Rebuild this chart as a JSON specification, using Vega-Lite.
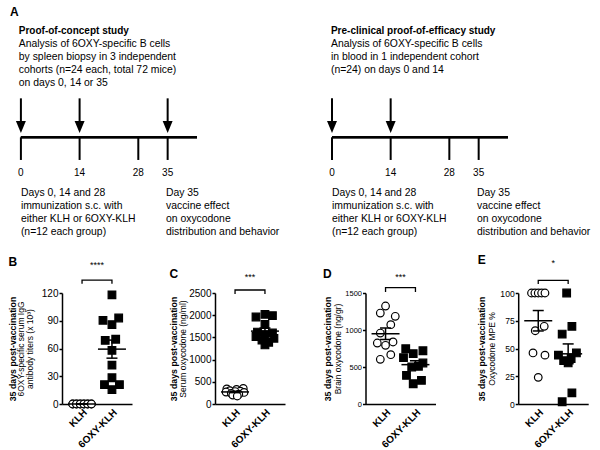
{
  "$schema": "https://vega.github.io/schema/vega-lite/v6.json",
  "padding": {"left": 8, "top": 5, "right": 5, "bottom": 5},
  "background": "white",
  "config": {
    "view": {"stroke": null},
    "font": "Liberation Sans",
    "text": {"font": "Liberation Sans", "color": "black"},
    "title": {"font": "Liberation Sans", "fontSize": 12, "fontWeight": "bold", "color": "black", "anchor": "start", "frame": "bounds", "offset": -8},
    "axis": {"grid": false, "domainColor": "black", "domainWidth": 1.5, "tickColor": "black", "tickWidth": 1.5, "tickSize": 3, "labelColor": "black", "labelFont": "Liberation Sans", "labelFontSize": 10, "titleFont": "Liberation Sans", "titleFontSize": 8.5, "titleFontWeight": "normal", "titleColor": "black", "titleLineHeight": 9, "labelPadding": 1}
  },
  "datasets": {
    "daysA": [{"day": 0, "arrow": true}, {"day": 14, "arrow": true}, {"day": 28, "arrow": false}, {"day": 35, "arrow": true}],
    "daysB": [{"day": 0, "arrow": true}, {"day": 14, "arrow": true}, {"day": 28, "arrow": false}, {"day": 35, "arrow": false}],
    "notesA": [
      {"kind": "letter", "text": "A", "day": -2.6, "row": 0.54},
      {"kind": "heading", "text": "Proof-of-concept study", "day": -0.5, "row": 2.0},
      {"kind": "body", "text": "Analysis of 6OXY-specific B cells", "day": -0.5, "row": 3.0},
      {"kind": "body", "text": "by spleen biopsy in 3 independent", "day": -0.5, "row": 4.0},
      {"kind": "body", "text": "cohorts (n=24 each, total 72 mice)", "day": -0.5, "row": 5.0},
      {"kind": "body", "text": "on days 0, 14 or 35", "day": -0.5, "row": 6.0},
      {"kind": "body", "text": "Days 0, 14 and 28", "day": 0, "row": 14.47},
      {"kind": "body", "text": "immunization s.c. with", "day": 0, "row": 15.47},
      {"kind": "body", "text": "either KLH or 6OXY-KLH", "day": 0, "row": 16.47},
      {"kind": "body", "text": "(n=12 each group)", "day": 0, "row": 17.47},
      {"kind": "body", "text": "Day 35", "day": 34.6, "row": 14.47},
      {"kind": "body", "text": "vaccine effect", "day": 34.6, "row": 15.47},
      {"kind": "body", "text": "on oxycodone", "day": 34.6, "row": 16.47},
      {"kind": "body", "text": "distribution and behavior", "day": 34.6, "row": 17.47}
    ],
    "notesB": [
      {"kind": "heading", "text": "Pre-clinical proof-of-efficacy study", "day": -0.25, "row": 2.0},
      {"kind": "body", "text": "Analysis of 6OXY-specific B cells", "day": -0.25, "row": 3.0},
      {"kind": "body", "text": "in blood in 1 independent cohort", "day": -0.25, "row": 4.0},
      {"kind": "body", "text": "(n=24) on days 0 and 14", "day": -0.25, "row": 5.0},
      {"kind": "body", "text": "Days 0, 14 and 28", "day": 0, "row": 14.47},
      {"kind": "body", "text": "immunization s.c. with", "day": 0, "row": 15.47},
      {"kind": "body", "text": "either KLH or 6OXY-KLH", "day": 0, "row": 16.47},
      {"kind": "body", "text": "(n=12 each group)", "day": 0, "row": 17.47},
      {"kind": "body", "text": "Day 35", "day": 34.6, "row": 14.47},
      {"kind": "body", "text": "vaccine effect", "day": 34.6, "row": 15.47},
      {"kind": "body", "text": "on oxycodone", "day": 34.6, "row": 16.47},
      {"kind": "body", "text": "distribution and behavior", "day": 34.6, "row": 17.47}
    ],
    "panelB": [
      {"group": "KLH", "value": 0, "slot": -1.25}, {"group": "KLH", "value": 0, "slot": -1.25},
      {"group": "KLH", "value": 0, "slot": -0.75}, {"group": "KLH", "value": 0, "slot": -0.75},
      {"group": "KLH", "value": 0, "slot": -0.25}, {"group": "KLH", "value": 0, "slot": -0.25},
      {"group": "KLH", "value": 0, "slot": 0.25}, {"group": "KLH", "value": 0, "slot": 0.25},
      {"group": "KLH", "value": 0, "slot": 0.75}, {"group": "KLH", "value": 0, "slot": 0.75},
      {"group": "KLH", "value": 0, "slot": 1.25}, {"group": "KLH", "value": 0, "slot": 1.25},
      {"group": "6OXY-KLH", "value": 118, "slot": 0},
      {"group": "6OXY-KLH", "value": 90.5, "slot": -1.2},
      {"group": "6OXY-KLH", "value": 85.8, "slot": 0},
      {"group": "6OXY-KLH", "value": 93, "slot": 0.9},
      {"group": "6OXY-KLH", "value": 68.8, "slot": -0.9},
      {"group": "6OXY-KLH", "value": 70, "slot": 0.5},
      {"group": "6OXY-KLH", "value": 58, "slot": 0},
      {"group": "6OXY-KLH", "value": 42, "slot": 0},
      {"group": "6OXY-KLH", "value": 28.4, "slot": 0},
      {"group": "6OXY-KLH", "value": 20.9, "slot": -1},
      {"group": "6OXY-KLH", "value": 15.5, "slot": 0},
      {"group": "6OXY-KLH", "value": 20.9, "slot": 1}
    ],
    "panelC": [
      {"group": "KLH", "value": 350, "slot": 1.1}, {"group": "KLH", "value": 340, "slot": -1.1},
      {"group": "KLH", "value": 330, "slot": 0.2}, {"group": "KLH", "value": 300, "slot": -0.7},
      {"group": "KLH", "value": 290, "slot": 0.7}, {"group": "KLH", "value": 280, "slot": 0},
      {"group": "KLH", "value": 270, "slot": -1.2}, {"group": "KLH", "value": 260, "slot": 1.2},
      {"group": "KLH", "value": 240, "slot": -0.5}, {"group": "KLH", "value": 220, "slot": 0.5},
      {"group": "KLH", "value": 200, "slot": -0.3}, {"group": "KLH", "value": 180, "slot": 0.3},
      {"group": "6OXY-KLH", "value": 1960, "slot": -1.2}, {"group": "6OXY-KLH", "value": 2020, "slot": 0},
      {"group": "6OXY-KLH", "value": 1990, "slot": 1}, {"group": "6OXY-KLH", "value": 1790, "slot": 0},
      {"group": "6OXY-KLH", "value": 1620, "slot": -1}, {"group": "6OXY-KLH", "value": 1600, "slot": 1},
      {"group": "6OXY-KLH", "value": 1560, "slot": 0}, {"group": "6OXY-KLH", "value": 1520, "slot": -1.2},
      {"group": "6OXY-KLH", "value": 1480, "slot": 1.2}, {"group": "6OXY-KLH", "value": 1440, "slot": -0.4},
      {"group": "6OXY-KLH", "value": 1390, "slot": 0.5}, {"group": "6OXY-KLH", "value": 1330, "slot": 0}
    ],
    "panelD": [
      {"group": "KLH", "value": 1324, "slot": 0}, {"group": "KLH", "value": 1229, "slot": -0.7},
      {"group": "KLH", "value": 1185, "slot": 1.3}, {"group": "KLH", "value": 1072, "slot": 0.7},
      {"group": "KLH", "value": 959, "slot": -0.7}, {"group": "KLH", "value": 824, "slot": -1.1},
      {"group": "KLH", "value": 838, "slot": 1.0}, {"group": "KLH", "value": 793, "slot": 0},
      {"group": "KLH", "value": 666, "slot": 0.7}, {"group": "KLH", "value": 604, "slot": -0.7},
      {"group": "6OXY-KLH", "value": 747, "slot": -1.3}, {"group": "6OXY-KLH", "value": 680, "slot": -0.3},
      {"group": "6OXY-KLH", "value": 720, "slot": 1}, {"group": "6OXY-KLH", "value": 626, "slot": -1.6},
      {"group": "6OXY-KLH", "value": 554, "slot": 1}, {"group": "6OXY-KLH", "value": 500, "slot": -0.5},
      {"group": "6OXY-KLH", "value": 510, "slot": 0.4}, {"group": "6OXY-KLH", "value": 387, "slot": -1.2},
      {"group": "6OXY-KLH", "value": 274, "slot": -0.3}, {"group": "6OXY-KLH", "value": 320, "slot": 0.8}
    ],
    "panelE": [
      {"group": "KLH", "value": 100, "slot": -0.9}, {"group": "KLH", "value": 100, "slot": -0.45},
      {"group": "KLH", "value": 100, "slot": 0}, {"group": "KLH", "value": 100, "slot": 0.45},
      {"group": "KLH", "value": 100, "slot": 0.9}, {"group": "KLH", "value": 70, "slot": 0.8},
      {"group": "KLH", "value": 66, "slot": -0.4}, {"group": "KLH", "value": 46, "slot": -0.7},
      {"group": "KLH", "value": 44, "slot": 0.9}, {"group": "KLH", "value": 24, "slot": 0},
      {"group": "6OXY-KLH", "value": 100, "slot": -0.2}, {"group": "6OXY-KLH", "value": 70, "slot": 0.5},
      {"group": "6OXY-KLH", "value": 63, "slot": -0.8}, {"group": "6OXY-KLH", "value": 46, "slot": 1.1},
      {"group": "6OXY-KLH", "value": 44, "slot": -1.3}, {"group": "6OXY-KLH", "value": 39, "slot": -0.6},
      {"group": "6OXY-KLH", "value": 37, "slot": 0}, {"group": "6OXY-KLH", "value": 41, "slot": 0.4},
      {"group": "6OXY-KLH", "value": 10, "slot": 0.5}, {"group": "6OXY-KLH", "value": 2, "slot": -0.8}
    ],
    "bracketB": [{"seq": 1, "group": "KLH", "y": 130}, {"seq": 2, "group": "KLH", "y": 134}, {"seq": 3, "group": "6OXY-KLH", "y": 134}, {"seq": 4, "group": "6OXY-KLH", "y": 130}],
    "bracketC": [{"seq": 1, "group": "KLH", "y": 2477}, {"seq": 2, "group": "KLH", "y": 2568}, {"seq": 3, "group": "6OXY-KLH", "y": 2568}, {"seq": 4, "group": "6OXY-KLH", "y": 2477}],
    "bracketD": [{"seq": 1, "group": "KLH", "y": 1514}, {"seq": 2, "group": "KLH", "y": 1572}, {"seq": 3, "group": "6OXY-KLH", "y": 1572}, {"seq": 4, "group": "6OXY-KLH", "y": 1514}],
    "bracketE": [{"seq": 1, "group": "KLH", "y": 108.1}, {"seq": 2, "group": "KLH", "y": 111.4}, {"seq": 3, "group": "6OXY-KLH", "y": 111.4}, {"seq": 4, "group": "6OXY-KLH", "y": 108.1}],
    "starsB": [{"group": "6OXY-KLH", "y": 150, "label": "****"}],
    "starsC": [{"group": "6OXY-KLH", "y": 2860, "label": "***"}],
    "starsD": [{"group": "6OXY-KLH", "y": 1715, "label": "***"}],
    "starsE": [{"group": "6OXY-KLH", "y": 127, "label": "*"}]
  },
  "spacing": 15,
  "vconcat": [
    {
      "spacing": 47,
      "hconcat": [
        {
          "width": 187, "height": 234,
          "layer": [
            {"data": {"name": "daysA"}, "mark": {"type": "rule", "strokeWidth": 2, "color": "black"},
             "encoding": {"x": {"datum": 0, "type": "quantitative", "scale": {"domain": [-2.6, 42], "nice": false, "zero": false}, "axis": null}, "x2": {"datum": 42},
                          "y": {"datum": 10.18, "type": "quantitative", "scale": {"domain": [0, 18], "reverse": true, "nice": false, "zero": false}, "axis": null}}},
            {"data": {"name": "daysA"}, "mark": {"type": "rule", "strokeWidth": 2, "color": "black"},
             "encoding": {"x": {"field": "day", "type": "quantitative", "scale": {"domain": [-2.6, 42], "nice": false, "zero": false}, "axis": null},
                          "y": {"datum": 10.18, "type": "quantitative", "scale": {"domain": [0, 18], "reverse": true, "nice": false, "zero": false}, "axis": null}, "y2": {"datum": 11.92}}},
            {"data": {"name": "daysA"}, "transform": [{"filter": "datum.arrow"}], "mark": {"type": "rule", "strokeWidth": 2, "color": "black"},
             "encoding": {"x": {"field": "day", "type": "quantitative", "scale": {"domain": [-2.6, 42], "nice": false, "zero": false}, "axis": null},
                          "y": {"datum": 7.18, "type": "quantitative", "scale": {"domain": [0, 18], "reverse": true, "nice": false, "zero": false}, "axis": null}, "y2": {"datum": 9.4}}},
            {"data": {"name": "daysA"}, "transform": [{"filter": "datum.arrow"}], "mark": {"type": "point", "shape": "M-0.83,-1L0.83,-1L0,1Z", "size": 144, "filled": true, "color": "black", "strokeWidth": 0, "opacity": 1},
             "encoding": {"x": {"field": "day", "type": "quantitative", "scale": {"domain": [-2.6, 42], "nice": false, "zero": false}, "axis": null},
                          "y": {"datum": 9.38, "type": "quantitative", "scale": {"domain": [0, 18], "reverse": true, "nice": false, "zero": false}, "axis": null}}},
            {"data": {"name": "daysA"}, "mark": {"type": "text", "fontSize": 10, "align": "center", "baseline": "middle"},
             "encoding": {"x": {"field": "day", "type": "quantitative", "scale": {"domain": [-2.6, 42], "nice": false, "zero": false}, "axis": null},
                          "y": {"datum": 12.95, "type": "quantitative", "scale": {"domain": [0, 18], "reverse": true, "nice": false, "zero": false}, "axis": null}, "text": {"field": "day"}}},
            {"data": {"name": "notesA"}, "transform": [{"filter": "datum.kind === 'body'"}], "mark": {"type": "text", "fontSize": 10.4, "align": "left", "baseline": "middle"},
             "encoding": {"x": {"field": "day", "type": "quantitative", "scale": {"domain": [-2.6, 42], "nice": false, "zero": false}, "axis": null},
                          "y": {"field": "row", "type": "quantitative", "scale": {"domain": [0, 18], "reverse": true, "nice": false, "zero": false}, "axis": null}, "text": {"field": "text"}}},
            {"data": {"name": "notesA"}, "transform": [{"filter": "datum.kind === 'heading'"}], "mark": {"type": "text", "fontSize": 10, "fontWeight": "bold", "align": "left", "baseline": "middle"},
             "encoding": {"x": {"field": "day", "type": "quantitative", "scale": {"domain": [-2.6, 42], "nice": false, "zero": false}, "axis": null},
                          "y": {"field": "row", "type": "quantitative", "scale": {"domain": [0, 18], "reverse": true, "nice": false, "zero": false}, "axis": null}, "text": {"field": "text"}}},
            {"data": {"name": "notesA"}, "transform": [{"filter": "datum.kind === 'letter'"}], "mark": {"type": "text", "fontSize": 12, "fontWeight": "bold", "align": "left", "baseline": "middle"},
             "encoding": {"x": {"field": "day", "type": "quantitative", "scale": {"domain": [-2.6, 42], "nice": false, "zero": false}, "axis": null},
                          "y": {"field": "row", "type": "quantitative", "scale": {"domain": [0, 18], "reverse": true, "nice": false, "zero": false}, "axis": null}, "text": {"field": "text"}}}
          ]
        },
        {
          "width": 176, "height": 234,
          "layer": [
            {"data": {"name": "daysB"}, "mark": {"type": "rule", "strokeWidth": 2, "color": "black"},
             "encoding": {"x": {"datum": 0, "type": "quantitative", "scale": {"domain": [0, 42], "nice": false, "zero": false}, "axis": null}, "x2": {"datum": 42},
                          "y": {"datum": 10.18, "type": "quantitative", "scale": {"domain": [0, 18], "reverse": true, "nice": false, "zero": false}, "axis": null}}},
            {"data": {"name": "daysB"}, "mark": {"type": "rule", "strokeWidth": 2, "color": "black"},
             "encoding": {"x": {"field": "day", "type": "quantitative", "scale": {"domain": [0, 42], "nice": false, "zero": false}, "axis": null},
                          "y": {"datum": 10.18, "type": "quantitative", "scale": {"domain": [0, 18], "reverse": true, "nice": false, "zero": false}, "axis": null}, "y2": {"datum": 11.92}}},
            {"data": {"name": "daysB"}, "transform": [{"filter": "datum.arrow"}], "mark": {"type": "rule", "strokeWidth": 2, "color": "black"},
             "encoding": {"x": {"field": "day", "type": "quantitative", "scale": {"domain": [0, 42], "nice": false, "zero": false}, "axis": null},
                          "y": {"datum": 7.18, "type": "quantitative", "scale": {"domain": [0, 18], "reverse": true, "nice": false, "zero": false}, "axis": null}, "y2": {"datum": 9.4}}},
            {"data": {"name": "daysB"}, "transform": [{"filter": "datum.arrow"}], "mark": {"type": "point", "shape": "M-0.83,-1L0.83,-1L0,1Z", "size": 144, "filled": true, "color": "black", "strokeWidth": 0, "opacity": 1},
             "encoding": {"x": {"field": "day", "type": "quantitative", "scale": {"domain": [0, 42], "nice": false, "zero": false}, "axis": null},
                          "y": {"datum": 9.38, "type": "quantitative", "scale": {"domain": [0, 18], "reverse": true, "nice": false, "zero": false}, "axis": null}}},
            {"data": {"name": "daysB"}, "mark": {"type": "text", "fontSize": 10, "align": "center", "baseline": "middle"},
             "encoding": {"x": {"field": "day", "type": "quantitative", "scale": {"domain": [0, 42], "nice": false, "zero": false}, "axis": null},
                          "y": {"datum": 12.95, "type": "quantitative", "scale": {"domain": [0, 18], "reverse": true, "nice": false, "zero": false}, "axis": null}, "text": {"field": "day"}}},
            {"data": {"name": "notesB"}, "transform": [{"filter": "datum.kind === 'body'"}], "mark": {"type": "text", "fontSize": 10.4, "align": "left", "baseline": "middle"},
             "encoding": {"x": {"field": "day", "type": "quantitative", "scale": {"domain": [0, 42], "nice": false, "zero": false}, "axis": null},
                          "y": {"field": "row", "type": "quantitative", "scale": {"domain": [0, 18], "reverse": true, "nice": false, "zero": false}, "axis": null}, "text": {"field": "text"}}},
            {"data": {"name": "notesB"}, "transform": [{"filter": "datum.kind === 'heading'"}], "mark": {"type": "text", "fontSize": 10, "fontWeight": "bold", "align": "left", "baseline": "middle"},
             "encoding": {"x": {"field": "day", "type": "quantitative", "scale": {"domain": [0, 42], "nice": false, "zero": false}, "axis": null},
                          "y": {"field": "row", "type": "quantitative", "scale": {"domain": [0, 18], "reverse": true, "nice": false, "zero": false}, "axis": null}, "text": {"field": "text"}}}
          ]
        }
      ]
    },
    {
      "spacing": -3,
      "hconcat": [
        {"width": 1, "height": 1, "data": {"values": [{"t": ""}]}, "mark": {"type": "text", "opacity": 0}, "encoding": {"text": {"field": "t"}}},
        {
          "spacing": 37.5,
          "hconcat": [
            {
              "spacing": 37,
              "hconcat": [
                {
                  "width": 70, "height": 111,
                  "title": {"text": "B"},
                  "resolve": {"axis": {"y": "independent"}},
                  "layer": [
                    {"data": {"name": "panelB"}, "mark": {"type": "point", "filled": true, "stroke": "black", "strokeWidth": 1.2, "size": 58, "opacity": 1},
                     "encoding": {
                       "x": {"field": "group", "type": "nominal", "sort": ["KLH", "6OXY-KLH"], "scale": {"paddingInner": 0, "paddingOuter": 0.17}, "title": null, "axis": {"orient": "bottom", "ticks": false, "labelAngle": -45, "labelFontWeight": "bold", "labelFontSize": 10, "labelPadding": 3}},
                       "xOffset": {"field": "slot", "type": "quantitative", "scale": {"domain": [-2, 2], "nice": false, "zero": false}},
                       "y": {"field": "value", "type": "quantitative", "scale": {"domain": [0, 120], "nice": false}, "axis": {"orient": "left", "values": [0, 30, 60, 90, 120], "labelFontSize": 10, "title": ["6OXY-specific serum IgG", "antibody titers (x 10³)"], "titlePadding": 7}},
                       "shape": {"field": "group", "type": "nominal", "scale": {"domain": ["KLH", "6OXY-KLH"], "range": ["circle", "square"]}, "legend": null},
                       "fill": {"field": "group", "type": "nominal", "scale": {"domain": ["KLH", "6OXY-KLH"], "range": ["white", "black"]}, "legend": null}
                     }},
                    {"data": {"name": "panelB"},
                     "transform": [{"aggregate": [{"op": "mean", "field": "value", "as": "m"}, {"op": "stderr", "field": "value", "as": "se"}], "groupby": ["group"]}, {"calculate": "datum.m - datum.se", "as": "lo"}, {"calculate": "datum.m + datum.se", "as": "hi"}],
                     "layer": [
                       {"mark": {"type": "rule", "strokeWidth": 1.5, "color": "black"}, "encoding": {"x": {"field": "group", "type": "nominal", "sort": ["KLH", "6OXY-KLH"], "title": null}, "y": {"field": "lo", "type": "quantitative", "scale": {"domain": [0, 120], "nice": false}, "axis": null}, "y2": {"field": "hi"}}},
                       {"mark": {"type": "tick", "size": 28, "thickness": 1.5, "color": "black", "opacity": 1}, "encoding": {"x": {"field": "group", "type": "nominal", "sort": ["KLH", "6OXY-KLH"], "title": null}, "y": {"field": "m", "type": "quantitative", "scale": {"domain": [0, 120], "nice": false}, "axis": null}}},
                       {"mark": {"type": "tick", "size": 11, "thickness": 1.5, "color": "black", "opacity": 1}, "encoding": {"x": {"field": "group", "type": "nominal", "sort": ["KLH", "6OXY-KLH"], "title": null}, "y": {"field": "lo", "type": "quantitative", "scale": {"domain": [0, 120], "nice": false}, "axis": null}}},
                       {"mark": {"type": "tick", "size": 11, "thickness": 1.5, "color": "black", "opacity": 1}, "encoding": {"x": {"field": "group", "type": "nominal", "sort": ["KLH", "6OXY-KLH"], "title": null}, "y": {"field": "hi", "type": "quantitative", "scale": {"domain": [0, 120], "nice": false}, "axis": null}}}
                     ]},
                    {"data": {"name": "bracketB"}, "mark": {"type": "line", "strokeWidth": 1.3, "color": "black"},
                     "encoding": {"x": {"field": "group", "type": "nominal", "sort": ["KLH", "6OXY-KLH"], "title": null}, "order": {"field": "seq"},
                                  "y": {"field": "y", "type": "quantitative", "scale": {"domain": [0, 120], "nice": false}, "axis": {"orient": "left", "title": "35 days post-vaccination", "titleFontWeight": "bold", "titleFontSize": 8.8, "labels": false, "ticks": false, "domain": false, "titlePadding": 44.5}}}},
                    {"data": {"name": "starsB"}, "mark": {"type": "text", "fontSize": 9, "align": "center", "baseline": "middle"},
                     "encoding": {"x": {"field": "group", "type": "nominal", "sort": ["KLH", "6OXY-KLH"], "bandPosition": 0, "title": null}, "y": {"field": "y", "type": "quantitative", "scale": {"domain": [0, 120], "nice": false}, "axis": null}, "text": {"field": "label"}}}
                  ]
                },
                {
                  "width": 70, "height": 111,
                  "title": {"text": "C"},
                  "resolve": {"axis": {"y": "independent"}},
                  "layer": [
                    {"data": {"name": "panelC"}, "mark": {"type": "point", "filled": true, "stroke": "black", "strokeWidth": 1.2, "size": 58, "opacity": 1},
                     "encoding": {
                       "x": {"field": "group", "type": "nominal", "sort": ["KLH", "6OXY-KLH"], "scale": {"paddingInner": 0, "paddingOuter": 0.17}, "title": null, "axis": {"orient": "bottom", "ticks": false, "labelAngle": -45, "labelFontWeight": "bold", "labelFontSize": 10, "labelPadding": 3}},
                       "xOffset": {"field": "slot", "type": "quantitative", "scale": {"domain": [-2, 2], "nice": false, "zero": false}},
                       "y": {"field": "value", "type": "quantitative", "scale": {"domain": [0, 2500], "nice": false}, "axis": {"orient": "left", "values": [0, 500, 1000, 1500, 2000, 2500], "format": "d", "labelFontSize": 10, "title": "Serum oxycodone (ng/ml)", "titlePadding": 1.5}},
                       "shape": {"field": "group", "type": "nominal", "scale": {"domain": ["KLH", "6OXY-KLH"], "range": ["circle", "square"]}, "legend": null},
                       "fill": {"field": "group", "type": "nominal", "scale": {"domain": ["KLH", "6OXY-KLH"], "range": ["white", "black"]}, "legend": null}
                     }},
                    {"data": {"name": "panelC"},
                     "transform": [{"aggregate": [{"op": "mean", "field": "value", "as": "m"}, {"op": "stderr", "field": "value", "as": "se"}], "groupby": ["group"]}, {"calculate": "datum.m - datum.se", "as": "lo"}, {"calculate": "datum.m + datum.se", "as": "hi"}],
                     "layer": [
                       {"mark": {"type": "rule", "strokeWidth": 1.5, "color": "black"}, "encoding": {"x": {"field": "group", "type": "nominal", "sort": ["KLH", "6OXY-KLH"], "title": null}, "y": {"field": "lo", "type": "quantitative", "scale": {"domain": [0, 2500], "nice": false}, "axis": null}, "y2": {"field": "hi"}}},
                       {"mark": {"type": "tick", "size": 28, "thickness": 1.5, "color": "black", "opacity": 1}, "encoding": {"x": {"field": "group", "type": "nominal", "sort": ["KLH", "6OXY-KLH"], "title": null}, "y": {"field": "m", "type": "quantitative", "scale": {"domain": [0, 2500], "nice": false}, "axis": null}}},
                       {"mark": {"type": "tick", "size": 11, "thickness": 1.5, "color": "black", "opacity": 1}, "encoding": {"x": {"field": "group", "type": "nominal", "sort": ["KLH", "6OXY-KLH"], "title": null}, "y": {"field": "lo", "type": "quantitative", "scale": {"domain": [0, 2500], "nice": false}, "axis": null}}},
                       {"mark": {"type": "tick", "size": 11, "thickness": 1.5, "color": "black", "opacity": 1}, "encoding": {"x": {"field": "group", "type": "nominal", "sort": ["KLH", "6OXY-KLH"], "title": null}, "y": {"field": "hi", "type": "quantitative", "scale": {"domain": [0, 2500], "nice": false}, "axis": null}}}
                     ]},
                    {"data": {"name": "bracketC"}, "mark": {"type": "line", "strokeWidth": 1.3, "color": "black"},
                     "encoding": {"x": {"field": "group", "type": "nominal", "sort": ["KLH", "6OXY-KLH"], "title": null}, "order": {"field": "seq"},
                                  "y": {"field": "y", "type": "quantitative", "scale": {"domain": [0, 2500], "nice": false}, "axis": {"orient": "left", "title": "35 days post-vaccination", "titleFontWeight": "bold", "titleFontSize": 8.8, "labels": false, "ticks": false, "domain": false, "titlePadding": 36.5}}}},
                    {"data": {"name": "starsC"}, "mark": {"type": "text", "fontSize": 9, "align": "center", "baseline": "middle"},
                     "encoding": {"x": {"field": "group", "type": "nominal", "sort": ["KLH", "6OXY-KLH"], "bandPosition": 0, "title": null}, "y": {"field": "y", "type": "quantitative", "scale": {"domain": [0, 2500], "nice": false}, "axis": null}, "text": {"field": "label"}}}
                  ]
                }
              ]
            },
            {
              "spacing": 41.7,
              "hconcat": [
                {
                  "width": 70, "height": 111,
                  "title": {"text": "D"},
                  "resolve": {"axis": {"y": "independent"}},
                  "layer": [
                    {"data": {"name": "panelD"}, "mark": {"type": "point", "filled": true, "stroke": "black", "strokeWidth": 1.2, "size": 58, "opacity": 1},
                     "encoding": {
                       "x": {"field": "group", "type": "nominal", "sort": ["KLH", "6OXY-KLH"], "scale": {"paddingInner": 0, "paddingOuter": 0.17}, "title": null, "axis": {"orient": "bottom", "ticks": false, "labelAngle": -45, "labelFontWeight": "bold", "labelFontSize": 10, "labelPadding": 3}},
                       "xOffset": {"field": "slot", "type": "quantitative", "scale": {"domain": [-2, 2], "nice": false, "zero": false}},
                       "y": {"field": "value", "type": "quantitative", "scale": {"domain": [0, 1500], "nice": false}, "axis": {"orient": "left", "values": [0, 500, 1000, 1500], "format": "d", "labelFontSize": 7.5, "title": "Brain oxycodone (ng/gr)", "titlePadding": 2.5}},
                       "shape": {"field": "group", "type": "nominal", "scale": {"domain": ["KLH", "6OXY-KLH"], "range": ["circle", "square"]}, "legend": null},
                       "fill": {"field": "group", "type": "nominal", "scale": {"domain": ["KLH", "6OXY-KLH"], "range": ["white", "black"]}, "legend": null}
                     }},
                    {"data": {"name": "panelD"},
                     "transform": [{"aggregate": [{"op": "mean", "field": "value", "as": "m"}, {"op": "stderr", "field": "value", "as": "se"}], "groupby": ["group"]}, {"calculate": "datum.m - datum.se", "as": "lo"}, {"calculate": "datum.m + datum.se", "as": "hi"}],
                     "layer": [
                       {"mark": {"type": "rule", "strokeWidth": 1.5, "color": "black"}, "encoding": {"x": {"field": "group", "type": "nominal", "sort": ["KLH", "6OXY-KLH"], "title": null}, "y": {"field": "lo", "type": "quantitative", "scale": {"domain": [0, 1500], "nice": false}, "axis": null}, "y2": {"field": "hi"}}},
                       {"mark": {"type": "tick", "size": 28, "thickness": 1.5, "color": "black", "opacity": 1}, "encoding": {"x": {"field": "group", "type": "nominal", "sort": ["KLH", "6OXY-KLH"], "title": null}, "y": {"field": "m", "type": "quantitative", "scale": {"domain": [0, 1500], "nice": false}, "axis": null}}},
                       {"mark": {"type": "tick", "size": 11, "thickness": 1.5, "color": "black", "opacity": 1}, "encoding": {"x": {"field": "group", "type": "nominal", "sort": ["KLH", "6OXY-KLH"], "title": null}, "y": {"field": "lo", "type": "quantitative", "scale": {"domain": [0, 1500], "nice": false}, "axis": null}}},
                       {"mark": {"type": "tick", "size": 11, "thickness": 1.5, "color": "black", "opacity": 1}, "encoding": {"x": {"field": "group", "type": "nominal", "sort": ["KLH", "6OXY-KLH"], "title": null}, "y": {"field": "hi", "type": "quantitative", "scale": {"domain": [0, 1500], "nice": false}, "axis": null}}}
                     ]},
                    {"data": {"name": "bracketD"}, "mark": {"type": "line", "strokeWidth": 1.3, "color": "black"},
                     "encoding": {"x": {"field": "group", "type": "nominal", "sort": ["KLH", "6OXY-KLH"], "title": null}, "order": {"field": "seq"},
                                  "y": {"field": "y", "type": "quantitative", "scale": {"domain": [0, 1500], "nice": false}, "axis": {"orient": "left", "title": "35 days post-vaccination", "titleFontWeight": "bold", "titleFontSize": 8.8, "labels": false, "ticks": false, "domain": false, "titlePadding": 33.5}}}},
                    {"data": {"name": "starsD"}, "mark": {"type": "text", "fontSize": 9, "align": "center", "baseline": "middle"},
                     "encoding": {"x": {"field": "group", "type": "nominal", "sort": ["KLH", "6OXY-KLH"], "bandPosition": 0, "title": null}, "y": {"field": "y", "type": "quantitative", "scale": {"domain": [0, 1500], "nice": false}, "axis": null}, "text": {"field": "label"}}}
                  ]
                },
                {
                  "width": 70, "height": 111,
                  "title": {"text": "E"},
                  "resolve": {"axis": {"y": "independent"}},
                  "layer": [
                    {"data": {"name": "panelE"}, "mark": {"type": "point", "filled": true, "stroke": "black", "strokeWidth": 1.2, "size": 58, "opacity": 1},
                     "encoding": {
                       "x": {"field": "group", "type": "nominal", "sort": ["KLH", "6OXY-KLH"], "scale": {"paddingInner": 0, "paddingOuter": 0.17}, "title": null, "axis": {"orient": "bottom", "ticks": false, "labelAngle": -45, "labelFontWeight": "bold", "labelFontSize": 10, "labelPadding": 3}},
                       "xOffset": {"field": "slot", "type": "quantitative", "scale": {"domain": [-2, 2], "nice": false, "zero": false}},
                       "y": {"field": "value", "type": "quantitative", "scale": {"domain": [0, 100], "nice": false}, "axis": {"orient": "left", "values": [0, 25, 50, 75, 100], "labelFontSize": 8.6, "title": "Oxycodone MPE %", "titlePadding": 3.7}},
                       "shape": {"field": "group", "type": "nominal", "scale": {"domain": ["KLH", "6OXY-KLH"], "range": ["circle", "square"]}, "legend": null},
                       "fill": {"field": "group", "type": "nominal", "scale": {"domain": ["KLH", "6OXY-KLH"], "range": ["white", "black"]}, "legend": null}
                     }},
                    {"data": {"name": "panelE"},
                     "transform": [{"aggregate": [{"op": "mean", "field": "value", "as": "m"}, {"op": "stderr", "field": "value", "as": "se"}], "groupby": ["group"]}, {"calculate": "datum.m - datum.se", "as": "lo"}, {"calculate": "datum.m + datum.se", "as": "hi"}],
                     "layer": [
                       {"mark": {"type": "rule", "strokeWidth": 1.5, "color": "black"}, "encoding": {"x": {"field": "group", "type": "nominal", "sort": ["KLH", "6OXY-KLH"], "title": null}, "y": {"field": "lo", "type": "quantitative", "scale": {"domain": [0, 100], "nice": false}, "axis": null}, "y2": {"field": "hi"}}},
                       {"mark": {"type": "tick", "size": 28, "thickness": 1.5, "color": "black", "opacity": 1}, "encoding": {"x": {"field": "group", "type": "nominal", "sort": ["KLH", "6OXY-KLH"], "title": null}, "y": {"field": "m", "type": "quantitative", "scale": {"domain": [0, 100], "nice": false}, "axis": null}}},
                       {"mark": {"type": "tick", "size": 11, "thickness": 1.5, "color": "black", "opacity": 1}, "encoding": {"x": {"field": "group", "type": "nominal", "sort": ["KLH", "6OXY-KLH"], "title": null}, "y": {"field": "lo", "type": "quantitative", "scale": {"domain": [0, 100], "nice": false}, "axis": null}}},
                       {"mark": {"type": "tick", "size": 11, "thickness": 1.5, "color": "black", "opacity": 1}, "encoding": {"x": {"field": "group", "type": "nominal", "sort": ["KLH", "6OXY-KLH"], "title": null}, "y": {"field": "hi", "type": "quantitative", "scale": {"domain": [0, 100], "nice": false}, "axis": null}}}
                     ]},
                    {"data": {"name": "bracketE"}, "mark": {"type": "line", "strokeWidth": 1.3, "color": "black"},
                     "encoding": {"x": {"field": "group", "type": "nominal", "sort": ["KLH", "6OXY-KLH"], "title": null}, "order": {"field": "seq"},
                                  "y": {"field": "y", "type": "quantitative", "scale": {"domain": [0, 100], "nice": false}, "axis": {"orient": "left", "title": "35 days post-vaccination", "titleFontWeight": "bold", "titleFontSize": 8.8, "labels": false, "ticks": false, "domain": false, "titlePadding": 31.5}}}},
                    {"data": {"name": "starsE"}, "mark": {"type": "text", "fontSize": 9, "align": "center", "baseline": "middle"},
                     "encoding": {"x": {"field": "group", "type": "nominal", "sort": ["KLH", "6OXY-KLH"], "bandPosition": 0, "title": null}, "y": {"field": "y", "type": "quantitative", "scale": {"domain": [0, 100], "nice": false}, "axis": null}, "text": {"field": "label"}}}
                  ]
                }
              ]
            }
          ]
        }
      ]
    }
  ]
}
